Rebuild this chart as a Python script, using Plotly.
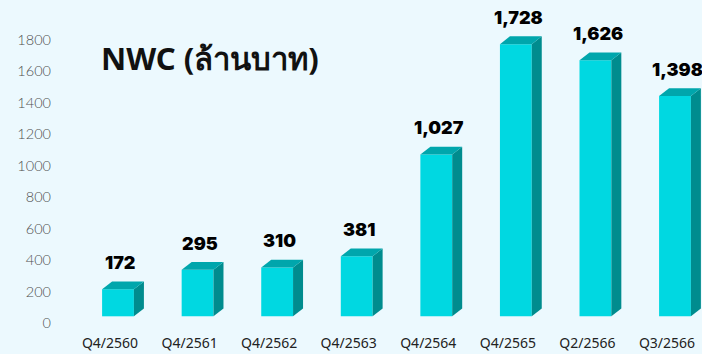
import plotly.graph_objects as go

# Net working capital by period (million baht)
periods = ["Q4/2560", "Q4/2561", "Q4/2562", "Q4/2563", "Q4/2564", "Q4/2565", "Q2/2566", "Q3/2566"]
nwc = [172, 295, 310, 381, 1027, 1728, 1626, 1398]
value_labels = ["172", "295", "310", "381", "1,027", "1,728", "1,626", "1,398"]
y_ticks = [0, 200, 400, 600, 800, 1000, 1200, 1400, 1600, 1800]

W, H = 702, 354
PX_PER_CAT = 79.57          # horizontal pixels per category
PX_PER_UNIT = 0.1575        # vertical pixels per million baht
X0_PX = 118                 # pixel centre of the first bar
LEFT_PX = 56                # left edge of plot area
BOTTOM_PX = 330             # bottom edge of plot area
FLOOR_PX = 316.3            # pixel row of the bars' front base
TICK0_PX = 323              # pixel row of the "0" tick label

BAR_W = 0.40
DX = 10 / PX_PER_CAT        # depth offset, horizontal
DY = 7.8 / PX_PER_UNIT      # depth offset, vertical

FRONT = "#00D8E1"
SIDE = "#008C8E"
TOP = "#00A6AC"
BG = "#ECF9FE"

xs = list(range(len(periods)))

fig = go.Figure()
fig.add_trace(go.Bar(
    x=xs, y=nwc, width=BAR_W, marker=dict(color=FRONT, line=dict(width=0)),
    hoverinfo="skip", showlegend=False,
))

shapes = []
for i, v in enumerate(nwc):
    xl, xr = i - BAR_W / 2, i + BAR_W / 2
    side = f"M {xr} 0 L {xr + DX} {DY} L {xr + DX} {v + DY} L {xr} {v} Z"
    top = f"M {xl} {v} L {xl + DX} {v + DY} L {xr + DX} {v + DY} L {xr} {v} Z"
    shapes.append(dict(type="path", path=side, xref="x", yref="y",
                       fillcolor=SIDE, line=dict(width=0), layer="above"))
    shapes.append(dict(type="path", path=top, xref="x", yref="y",
                       fillcolor=TOP, line=dict(width=0), layer="above"))

annotations = []
for i, (v, lab) in enumerate(zip(nwc, value_labels)):
    annotations.append(dict(
        x=i + 0.03, y=v + DY, xref="x", yref="y", text=lab, showarrow=False,
        yanchor="middle", yshift=19,
        font=dict(family="Inter", size=18, color="#000000", weight=900),
    ))

annotations.append(dict(
    x=99 / W, y=1 - 58 / H, xref="paper", yref="paper", xanchor="left", yanchor="middle",
    text="NWC (ล้านบาท)", showarrow=False,
    font=dict(family="Noto Sans", size=31, color="#111111", weight=700),
))

x_lo = (LEFT_PX - X0_PX) / PX_PER_CAT
x_hi = (W - X0_PX) / PX_PER_CAT
y_dom0 = (H - BOTTOM_PX) / H
bars_lo = -(BOTTOM_PX - FLOOR_PX) / PX_PER_UNIT
bars_hi = FLOOR_PX / PX_PER_UNIT
ticks_lo = -(BOTTOM_PX - TICK0_PX) / PX_PER_UNIT
ticks_hi = TICK0_PX / PX_PER_UNIT

fig.update_layout(
    width=W, height=H,
    margin=dict(l=0, r=0, t=0, b=0),
    paper_bgcolor=BG, plot_bgcolor=BG,
    shapes=shapes, annotations=annotations,
    xaxis=dict(
        domain=[LEFT_PX / W, 1], range=[x_lo, x_hi],
        tickmode="array", tickvals=xs, ticktext=periods,
        showgrid=False, zeroline=False, showline=False, ticks="",
        ticklabelshift=-8, ticklabelstandoff=3,
        tickfont=dict(family="Noto Sans", size=14, color="#222222"),
    ),
    yaxis=dict(
        domain=[y_dom0, 1], range=[bars_lo, bars_hi],
        showgrid=False, zeroline=False, showline=False, showticklabels=False,
    ),
    yaxis2=dict(
        overlaying="y", anchor="x", side="left", range=[ticks_lo, ticks_hi],
        tickmode="array", tickvals=y_ticks,
        showgrid=False, zeroline=False, showline=False, ticks="",
        ticklabelstandoff=4,
        tickfont=dict(family="Lato", size=14.5, color="#505050", weight=300),
    ),
)

# invisible trace to make the tick axis render
fig.add_trace(go.Scatter(x=[xs[0]], y=[0], yaxis="y2", mode="markers",
                         marker=dict(opacity=0), hoverinfo="skip", showlegend=False))

fig.write_html("out.html")
